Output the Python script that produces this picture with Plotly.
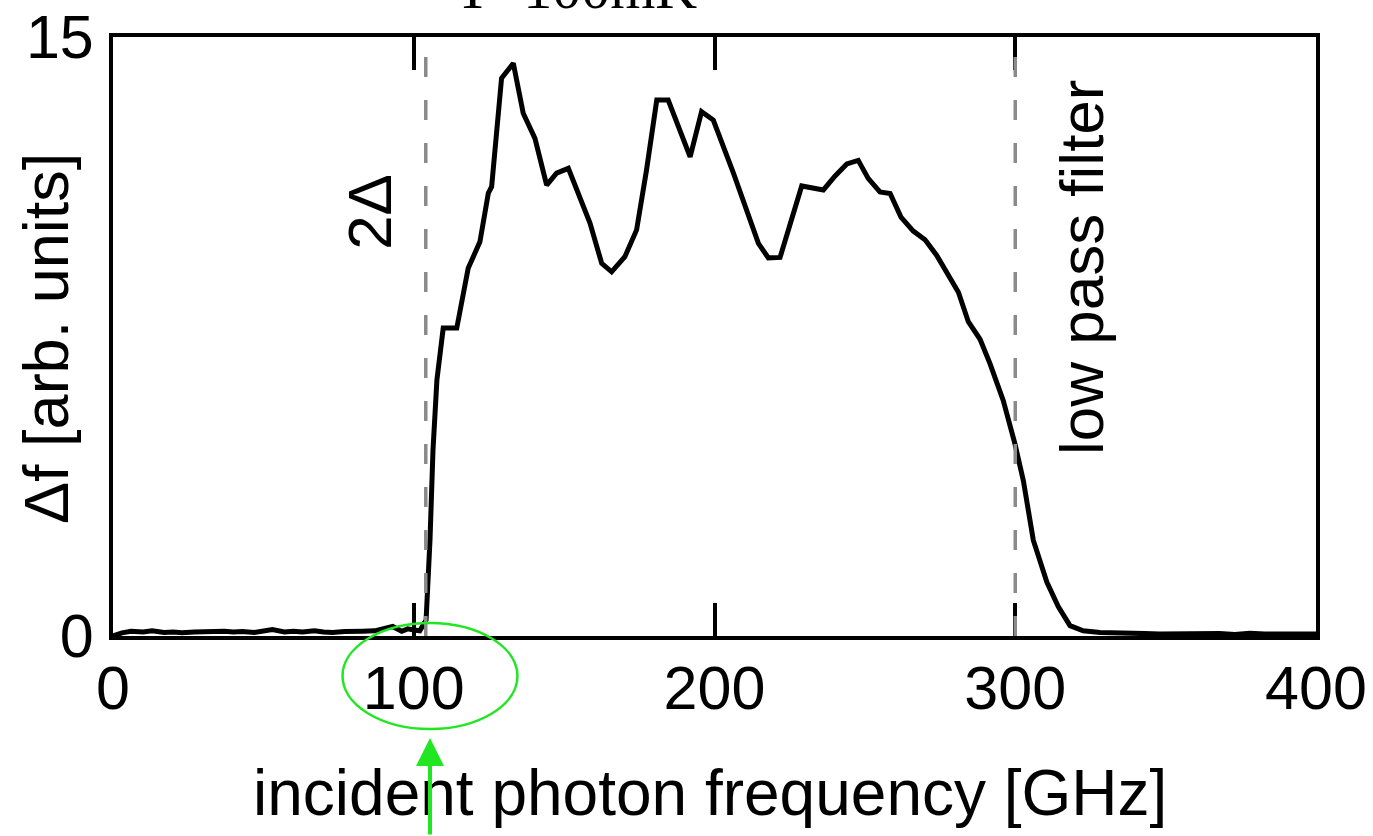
import plotly.graph_objects as go

# ---- data ----
freq_ghz = [0, 3, 6, 10, 13, 17, 20, 23, 27, 30, 33, 37, 40, 43, 47, 50, 53, 57, 60, 63,
            67, 70, 73, 77, 80, 83, 87, 90, 93, 96, 98, 100, 102,
            104.1, 105.4, 106.4, 107.7, 109.8, 114.3, 118.1, 122.0, 124.8, 125.9,
            129.2, 133.1, 136.4, 140.3, 144.2, 147.5, 151.4, 158.6, 162.5, 165.8,
            170.2, 174.1, 177.4, 180.8, 184.6, 188.5, 191.9, 195.7, 199.6, 206.3,
            210.7, 214.6, 217.9, 221.8, 229.0, 236.2, 240.1, 244.0, 247.8, 251.1,
            255.0, 258.4, 262.0, 266.1, 270.0, 273.9, 281.1, 284.4, 288.3, 291.6,
            296.0, 299.9, 302.7, 306.0, 310.5, 314.3, 318.2, 322.6, 328.2,
            333, 338, 343, 348, 353, 358, 363, 368, 373, 378, 383, 388, 393, 398, 400]
delta_f = [0.0, 0.08, 0.12, 0.10, 0.13, 0.09, 0.10, 0.08, 0.10, 0.11, 0.10, 0.12, 0.10, 0.11, 0.09, 0.12, 0.16, 0.10, 0.12, 0.10,
           0.13, 0.10, 0.09, 0.11, 0.10, 0.12, 0.13, 0.20, 0.24, 0.12, 0.18, 0.15, 0.13,
           0.40, 2.40, 4.66, 6.41, 7.71, 7.71, 9.21, 9.87, 11.09, 11.25,
           13.97, 14.34, 13.09, 12.46, 11.29, 11.59, 11.71, 10.34, 9.33, 9.12,
           9.50, 10.17, 11.67, 13.42, 13.42, 12.67, 12.00, 13.13, 12.92, 11.59,
           10.63, 9.83, 9.47, 9.48, 11.27, 11.17, 11.52, 11.82, 11.91, 11.46,
           11.12, 11.08, 10.49, 10.14, 9.92, 9.53, 8.61, 7.87, 7.43, 6.82,
           5.90, 4.81, 3.89, 2.40, 1.35, 0.74, 0.26, 0.13, 0.09,
           0.07, 0.05, 0.06, 0.05, 0.06, 0.04, 0.05, 0.06, 0.04, 0.07, 0.05, 0.05, 0.04, 0.05, 0.05]

x_ticks = [0, 100, 200, 300, 400]
y_ticks = [0, 15]
gap_freq = 104          # 2Δ marker
filter_freq = 300       # low pass filter marker

SANS = "Liberation Sans, Arial, Helvetica, sans-serif"
SERIF = "Liberation Serif, Times New Roman, serif"

fig = go.Figure()
fig.add_trace(go.Scatter(x=freq_ghz, y=delta_f, mode="lines",
                         line=dict(color="black", width=5), showlegend=False,
                         hoverinfo="skip"))

for xv in (gap_freq, filter_freq):
    fig.add_shape(type="line", xref="x", yref="paper", x0=xv, x1=xv, y0=0, y1=1,
                  line=dict(color="#8a8a8a", width=3.5, dash="20px,23px"), layer="above")

# green ellipse around the 100 tick label
fig.add_shape(type="circle", xref="paper", yref="paper",
              x0=0.1908, x1=0.3362, y0=-0.1553, y1=0.0217,
              line=dict(color="#22e622", width=2.5))

annotations = [
    dict(text="incident photon frequency [GHz]", xref="paper", yref="paper",
         x=0.4962, y=-0.2621, xanchor="center", yanchor="middle", showarrow=False,
         font=dict(family=SANS, size=64, color="black")),
    dict(text="Δf [arb. units]", xref="paper", yref="paper",
         x=-0.0557, y=0.4975, xanchor="center", yanchor="middle", showarrow=False,
         textangle=-90, font=dict(family=SANS, size=63, color="black")),
    dict(text="2Δ", xref="paper", yref="paper", x=0.2136, y=0.708,
         xanchor="center", yanchor="middle", showarrow=False, textangle=-90,
         font=dict(family=SANS, size=62, color="black")),
    dict(text="low pass filter", xref="paper", yref="paper", x=0.8047, y=0.616,
         xanchor="center", yanchor="middle", showarrow=False, textangle=-90,
         font=dict(family=SANS, size=62, color="black")),
    dict(text="T=100mK", xref="paper", yref="paper", x=0.3849, y=1.0815,
         xanchor="center", yanchor="middle", showarrow=False,
         font=dict(family=SERIF, size=58, color="black")),
    dict(text="", xref="paper", yref="paper", x=0.2635, y=-0.1703,
         ax=0, ay=110, axref="pixel", ayref="pixel", showarrow=True,
         arrowhead=2, arrowsize=1.4, arrowwidth=4, arrowcolor="#22e622", standoff=0),
]

fig.update_layout(
    width=1373, height=836,
    margin=dict(l=113, r=57, t=37, b=200, autoexpand=False),
    paper_bgcolor="white", plot_bgcolor="white",
    annotations=annotations,
    font=dict(family=SANS, color="black"),
)
fig.update_xaxes(range=[0, 400], tickvals=x_ticks, ticks="inside", ticklen=33, tickwidth=3.5,
                 tickcolor="black", showline=True, linecolor="black", linewidth=4,
                 mirror="ticks", showgrid=False, zeroline=False, automargin=False,
                 tickfont=dict(family=SANS, size=61, color="black"), ticklabelstandoff=-4)
fig.update_yaxes(range=[0, 15], tickvals=y_ticks, ticks="", showline=True, linecolor="black",
                 linewidth=4, mirror=True, showgrid=False, zeroline=False, automargin=False,
                 tickfont=dict(family=SANS, size=61, color="black"), ticklabelstandoff=3)

fig.write_html("out.html", config={"displayModeBar": False},
               post_script="document.body.style.margin='0';document.body.style.overflow='hidden';")
